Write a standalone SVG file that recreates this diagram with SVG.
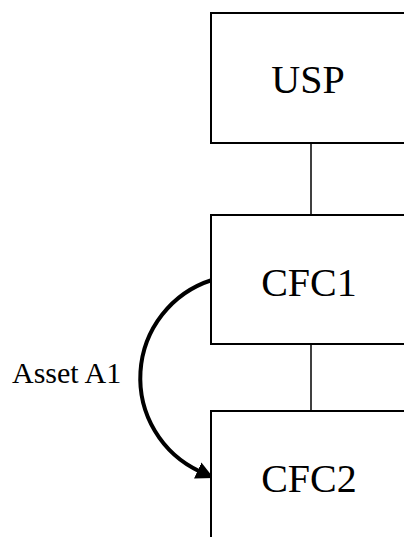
<svg xmlns="http://www.w3.org/2000/svg" width="404" height="537" viewBox="0 0 404 537">
<style>
.box{fill:#fff;stroke:#000;stroke-width:2}
.lbl{font-family:"Liberation Serif","Times New Roman",serif;font-size:40px;fill:#000;text-anchor:middle}
.link{stroke:#000;stroke-width:1.5;fill:none}
.flow{stroke:#000;stroke-width:4;fill:none}
.note{font-family:"Liberation Serif","Times New Roman",serif;font-size:30px;fill:#000}
</style>
<defs>
<marker id="ah" markerUnits="userSpaceOnUse" markerWidth="20" markerHeight="20" viewBox="0 -8 16 16" refX="2" refY="0" orient="auto">
<path d="M0,-7 L14,0 L0,7 z" fill="#000"/>
</marker>
</defs>
<rect width="404" height="537" fill="#fff"/>
<g id="connectors">
<line class="link" x1="311" y1="143" x2="311" y2="215"/>
<line class="link" x1="311" y1="344" x2="311" y2="411"/>
<path class="flow" d="M212,280 A103,103 0 0 0 200,471.6" marker-end="url(#ah)"/>
<text class="note" x="12" y="383">Asset A1</text>
</g>
<g id="usp">
<rect class="box" x="211" y="13" width="200" height="130"/>
<text class="lbl" x="308" y="93">USP</text>
</g>
<g id="cfc1">
<rect class="box" x="211" y="215" width="200" height="129"/>
<text class="lbl" x="309" y="296">CFC1</text>
</g>
<g id="cfc2">
<rect class="box" x="211" y="411" width="200" height="140"/>
<text class="lbl" x="309" y="492">CFC2</text>
</g>
</svg>
